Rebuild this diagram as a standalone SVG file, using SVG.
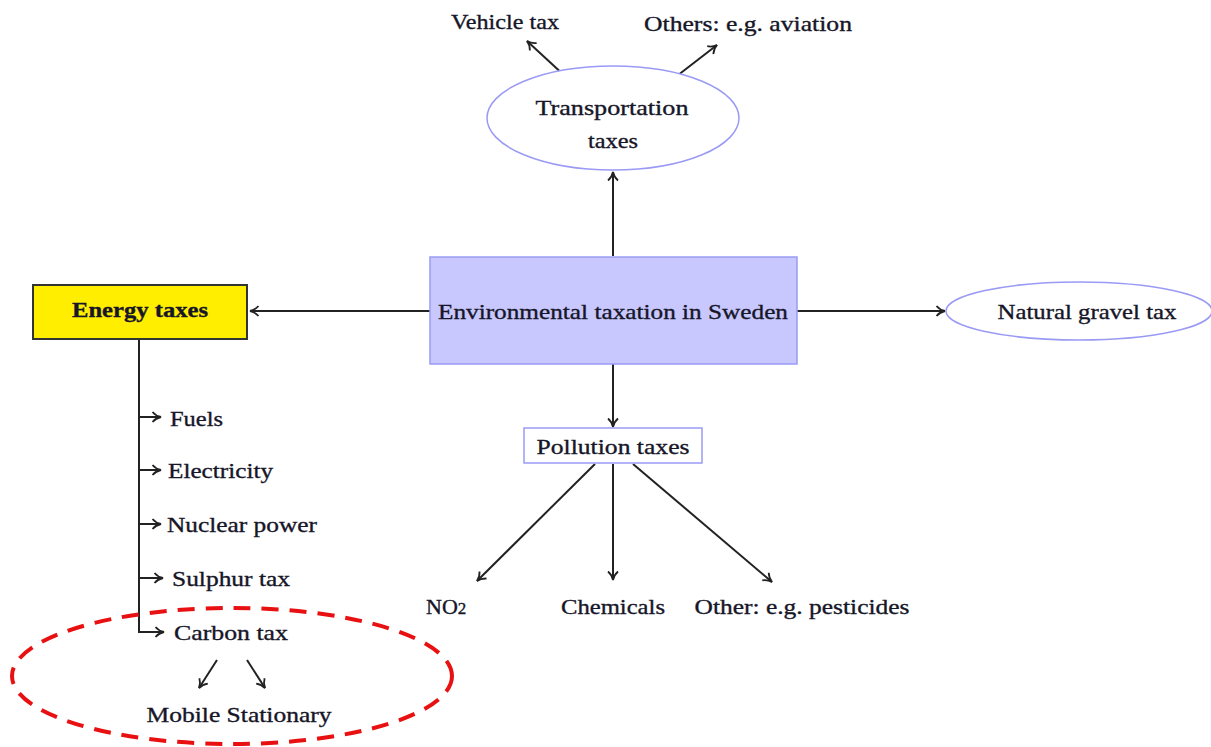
<svg xmlns="http://www.w3.org/2000/svg" width="1211" height="747" viewBox="0 0 1211 747">
<style>
text{font-family:"Liberation Serif","DejaVu Serif",serif;font-size:22px;fill:#161628;stroke:#161628;stroke-width:0.35;text-anchor:middle;dominant-baseline:central}
.l{text-anchor:start}
.c{stroke:#222;stroke-width:2;fill:none;marker-end:url(#ah)}
.s{stroke:#222;stroke-width:2;fill:none}
</style>
<defs>
<marker id="ah" viewBox="0 0 12 12" refX="11" refY="6" markerWidth="12" markerHeight="12" markerUnits="userSpaceOnUse" orient="auto">
<path d="M2.5,1 Q6,5 11,6 Q6,7 2.5,11" fill="none" stroke="#222" stroke-width="1.8"/>
</marker>
</defs>
<rect width="1211" height="747" fill="#fff"/>
<g id="connectors">
<line class="c" x1="430" y1="311" x2="250" y2="311"/>
<line class="c" x1="797" y1="311" x2="945" y2="311"/>
<line class="c" x1="613" y1="256" x2="613" y2="172"/>
<line class="c" x1="613" y1="364" x2="613" y2="427"/>
<line class="c" x1="566" y1="77" x2="527" y2="41"/>
<line class="c" x1="673" y1="79" x2="717" y2="45"/>
<line class="c" x1="595" y1="464" x2="477" y2="581"/>
<line class="c" x1="613" y1="464" x2="613" y2="580"/>
<line class="c" x1="633" y1="464" x2="772" y2="582"/>
<polyline class="s" points="139,339 139,632 160,632"/>
<line class="c" x1="139" y1="417" x2="161" y2="417"/>
<line class="c" x1="139" y1="470" x2="161" y2="470"/>
<line class="c" x1="139" y1="524" x2="161" y2="524"/>
<line class="c" x1="139" y1="578" x2="163" y2="578"/>
<line class="c" x1="150" y1="632" x2="164" y2="632"/>
<line class="c" x1="217" y1="660" x2="199" y2="688"/>
<line class="c" x1="247" y1="660" x2="265" y2="688"/>
</g>
<g id="main">
<rect x="430" y="257" width="367" height="107" fill="#c8c8ff" stroke="#9a9af5" stroke-width="1.5"/>
<text x="613" y="311" textLength="350" lengthAdjust="spacingAndGlyphs">Environmental taxation in Sweden</text>
</g>
<g id="energy">
<rect x="33" y="285" width="214" height="54" fill="#ffee00" stroke="#333" stroke-width="2"/>
<text x="140" y="309" font-weight="bold" textLength="136" lengthAdjust="spacingAndGlyphs">Energy taxes</text>
</g>
<g id="gravel">
<ellipse cx="1079" cy="311" rx="133" ry="29" fill="#fff" stroke="#9a9af5" stroke-width="1.5"/>
<text x="1087" y="311" textLength="179" lengthAdjust="spacingAndGlyphs">Natural gravel tax</text>
</g>
<g id="transport">
<ellipse cx="613" cy="118" rx="126" ry="52" fill="#fff" stroke="#9a9af5" stroke-width="1.5"/>
<text x="612" y="107" textLength="153" lengthAdjust="spacingAndGlyphs">Transportation</text>
<text x="613" y="140" textLength="50" lengthAdjust="spacingAndGlyphs">taxes</text>
</g>
<g id="vehicle"><text x="505" y="21" textLength="108" lengthAdjust="spacingAndGlyphs">Vehicle tax</text></g>
<g id="others"><text x="748" y="23" textLength="208" lengthAdjust="spacingAndGlyphs">Others: e.g. aviation</text></g>
<g id="pollution">
<rect x="524" y="428" width="178" height="35" fill="#fff" stroke="#9a9af5" stroke-width="1.5"/>
<text x="613" y="446" textLength="153" lengthAdjust="spacingAndGlyphs">Pollution taxes</text>
</g>
<g id="no2"><text class="l" x="426" y="606">NO<tspan font-size="17" dy="2">2</tspan></text></g>
<g id="chemicals"><text x="613" y="606" textLength="104" lengthAdjust="spacingAndGlyphs">Chemicals</text></g>
<g id="otherp"><text x="802" y="606" textLength="215" lengthAdjust="spacingAndGlyphs">Other: e.g. pesticides</text></g>
<g id="fuels"><text class="l" x="170" y="418" textLength="53" lengthAdjust="spacingAndGlyphs">Fuels</text></g>
<g id="electricity"><text class="l" x="168" y="470" textLength="105" lengthAdjust="spacingAndGlyphs">Electricity</text></g>
<g id="nuclear"><text class="l" x="167" y="524" textLength="150" lengthAdjust="spacingAndGlyphs">Nuclear power</text></g>
<g id="sulphur"><text class="l" x="172" y="578" textLength="118" lengthAdjust="spacingAndGlyphs">Sulphur tax</text></g>
<g id="carbon"><text class="l" x="174" y="632" textLength="114" lengthAdjust="spacingAndGlyphs">Carbon tax</text></g>
<g id="mobile"><text x="239" y="714" textLength="185" lengthAdjust="spacingAndGlyphs">Mobile Stationary</text></g>
<g id="highlight">
<ellipse cx="232" cy="676" rx="220" ry="68" fill="none" stroke="#e81010" stroke-width="4" stroke-dasharray="17 11"/>
</g>
</svg>
